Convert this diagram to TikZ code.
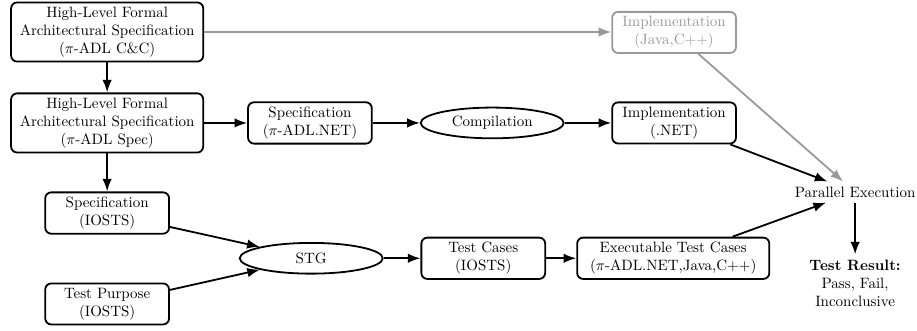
\documentclass[tikz,border=0pt]{standalone}
\usetikzlibrary{shapes.geometric,arrows.meta}
\begin{document}
\begin{tikzpicture}[>=Latex,
    box/.style={draw, very thick, rounded corners=4pt, align=center, minimum width=2.9cm, inner ysep=3pt},
    widebox/.style={box, minimum width=4.5cm},
    oval/.style={draw, very thick, ellipse, minimum width=3.35cm, minimum height=0.72cm, inner sep=1pt},
    arr/.style={->, very thick},
    ghost/.style={black!40}]
    \useasboundingbox (0,0) rectangle (21.48,-7.75);

    % left column
    \node (hlcc) at (2.51,-0.75) [widebox] {High-Level Formal\\Architectural Specification\\($\pi$-ADL C\&C)};
    \node (hlspec) at (2.51,-2.88) [widebox] {High-Level Formal\\Architectural Specification\\($\pi$-ADL Spec)};
    \node (specio) at (2.51,-4.99) [box] {Specification\\(IOSTS)};
    \node (purpose) at (2.51,-7.12) [box] {Test Purpose\\(IOSTS)};

    % implementation row
    \node (specnet) at (7.26,-2.88) [box] {Specification\\($\pi$-ADL.NET)};
    \node (comp) at (11.53,-2.88) [oval] {Compilation};
    \node (implnet) at (15.79,-2.88) [box] {Implementation\\(.NET)};
    \node (impljava) at (15.79,-0.76) [box, ghost] {Implementation\\(Java,C++)};

    % test row
    \node (stg) at (7.29,-6.05) [oval] {STG};
    \node (cases) at (11.32,-6.05) [box] {Test Cases\\(IOSTS)};
    \node (exec) at (15.77,-6.05) [widebox] {Executable Test Cases\\($\pi$-ADL.NET,Java,C++)};

    \node (par) at (20.03,-4.50) {Parallel Execution};
    \node (result) at (20.03,-6.63) [align=center] {\textbf{Test Result:}\\Pass, Fail,\\Inconclusive};

    \draw[arr] (hlcc) -- (hlspec);
    \draw[arr] (hlspec) -- (specio);
    \draw[arr] (hlspec) -- (specnet);
    \draw[arr] (specnet) -- (comp);
    \draw[arr] (comp) -- (implnet);
    \draw[arr, ghost] (hlcc) -- (hlcc -| impljava.west);
    \draw[arr, ghost] (impljava) -- (par);
    \draw[arr] (implnet) -- (par);
    \draw[arr] (specio) -- (stg);
    \draw[arr] (purpose) -- (stg);
    \draw[arr] (stg) -- (cases);
    \draw[arr] (cases) -- (exec);
    \draw[arr] (exec) -- (par);
    \draw[arr] (par) -- (result);
\end{tikzpicture}
\end{document}
